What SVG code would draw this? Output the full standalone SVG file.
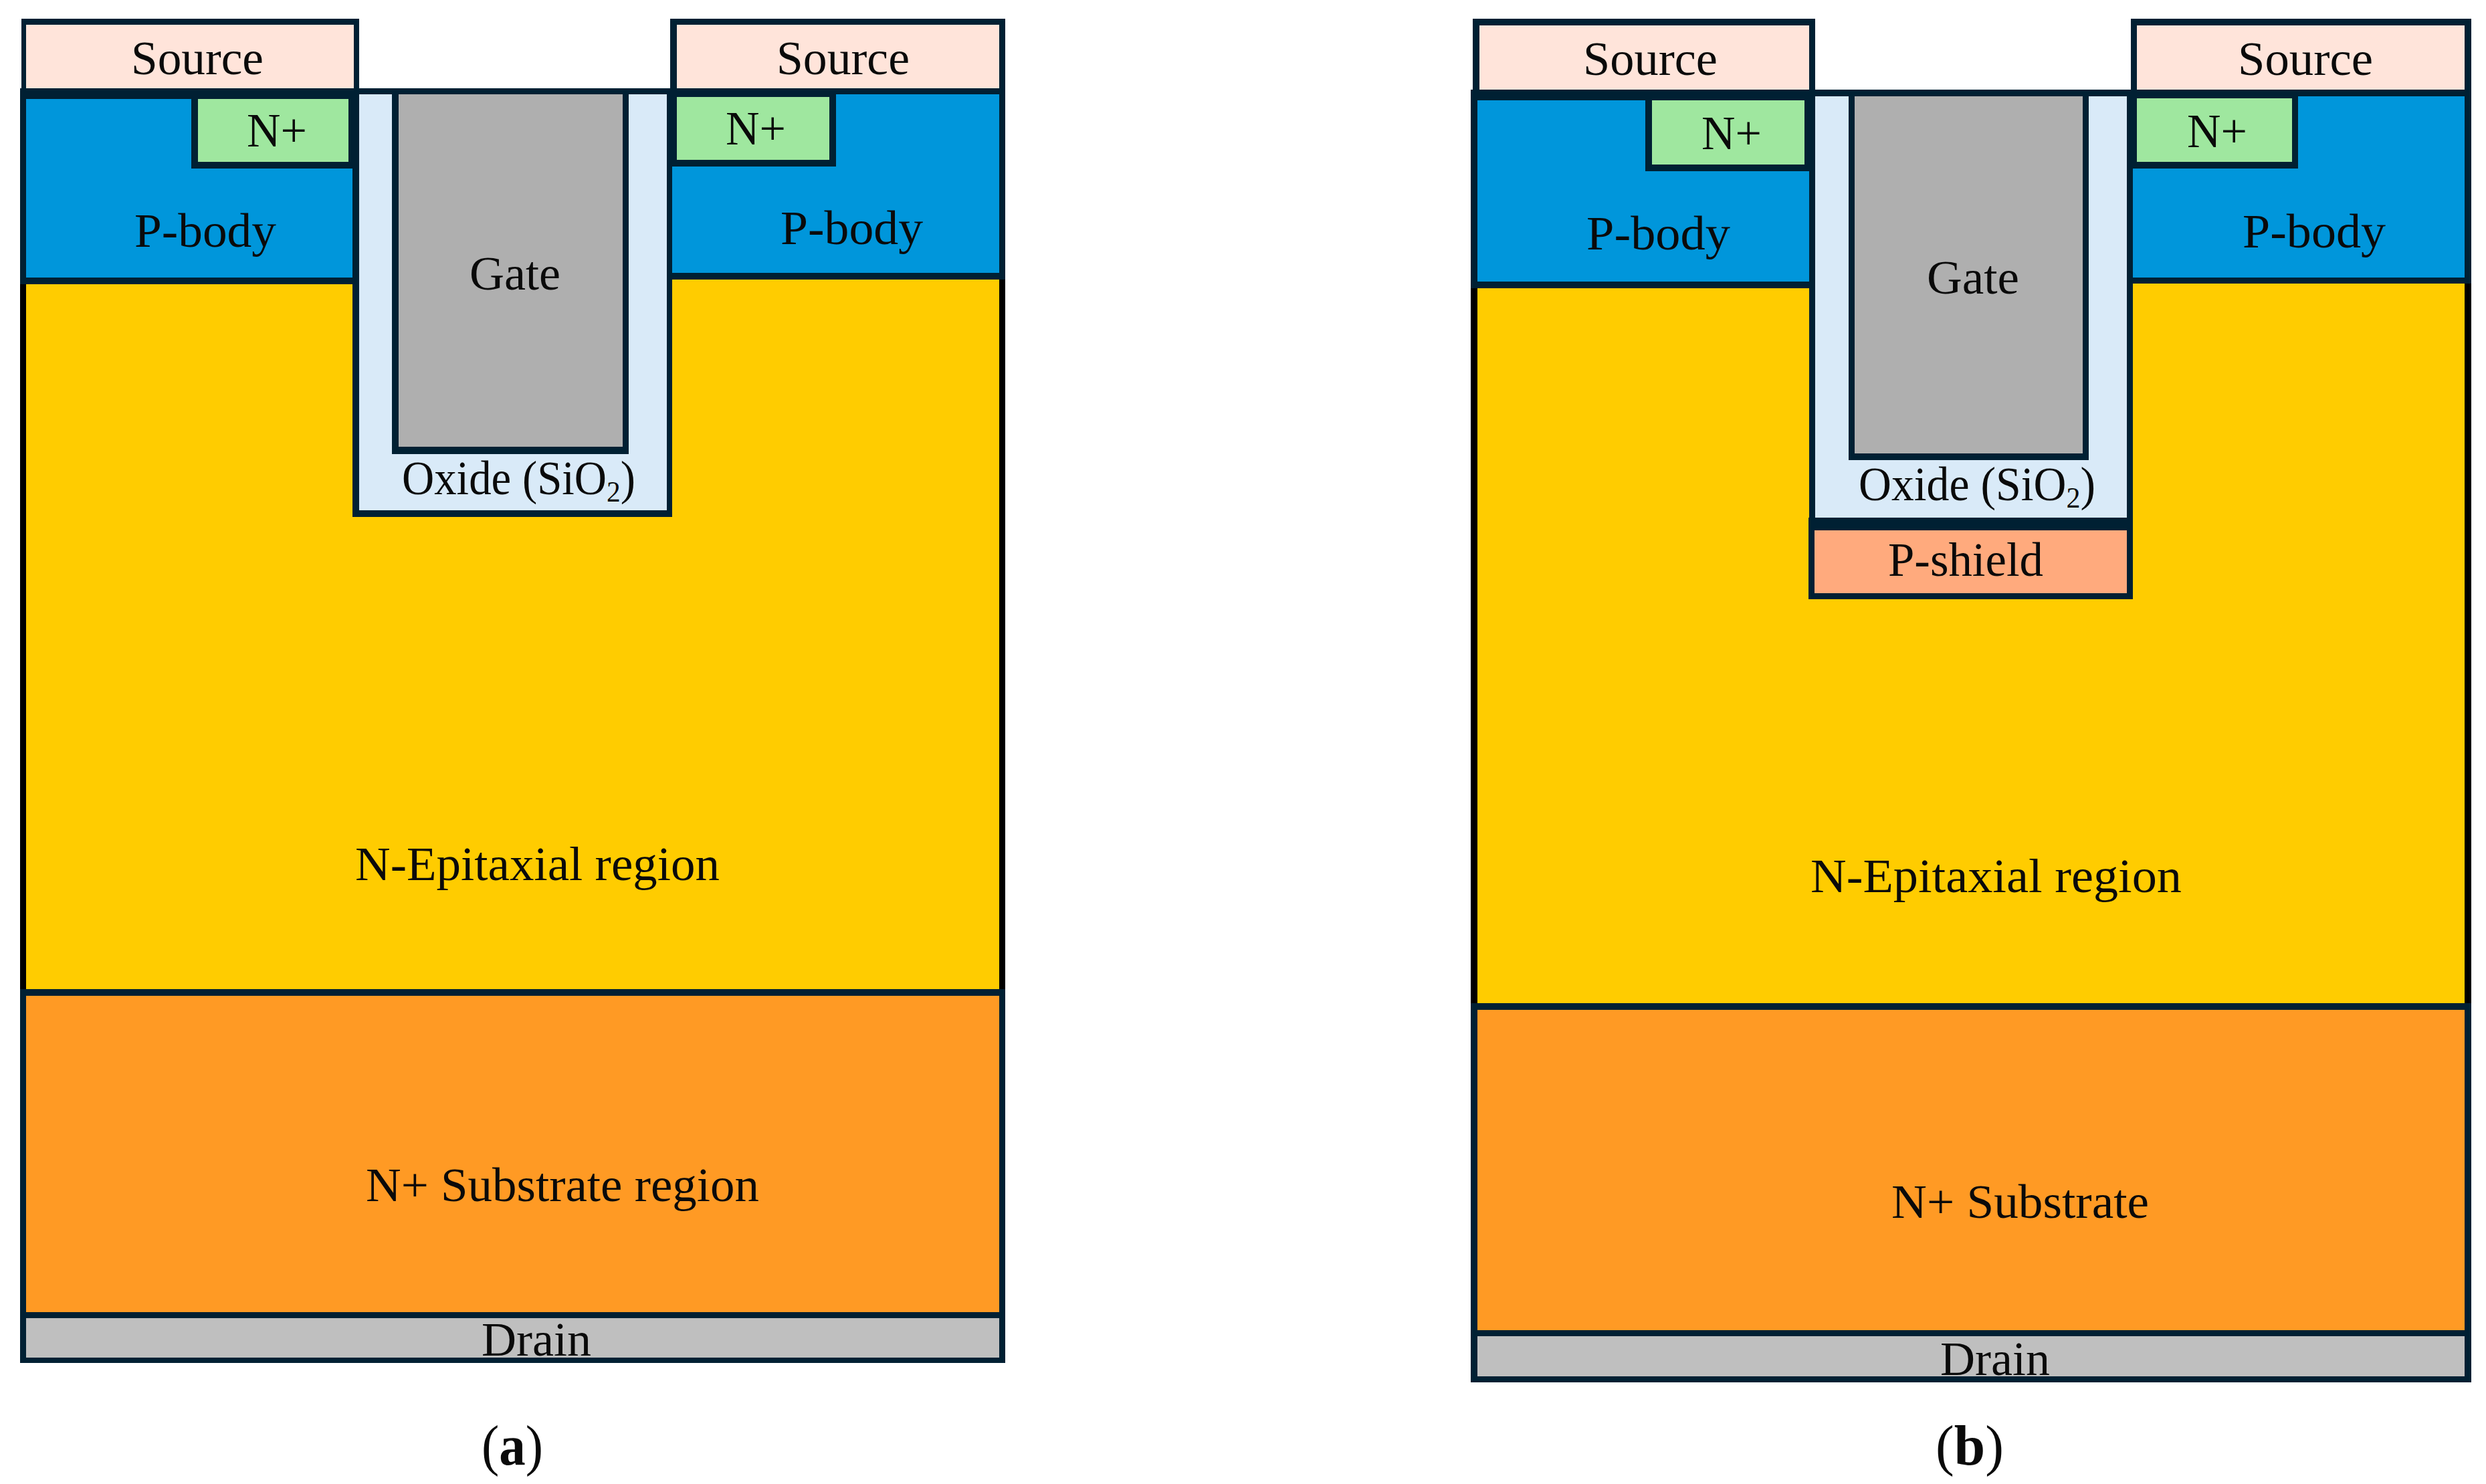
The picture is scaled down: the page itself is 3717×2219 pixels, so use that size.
<svg xmlns="http://www.w3.org/2000/svg" width="3717" height="2219" viewBox="0 0 3717 2219">
<style>
text{font-family:"Liberation Serif","Times New Roman",serif;font-size:71px;fill:#0a0a0a}
.b{font-weight:700}
.cap{font-size:84px}
.k{fill:#002033}.bk{fill:#000}
.src{fill:#FFE4DA}.pb{fill:#0096DB}.np{fill:#9FE79F}.ox{fill:#D9EAF8}.gt{fill:#AFAFAF}
.ep{fill:#FFCC00}.sb{fill:#FF9A24}.dr{fill:#BFBFBF}.ps{fill:#FFAA7D}
</style>
<rect width="3717" height="2219" fill="#fff"/>
<g id="panel-a">
<g id="a-frame"><rect class="k" x="30" y="132" width="1473" height="1906"/><rect class="bk" x="30" y="425" width="9" height="1054"/><rect class="bk" x="1494" y="418" width="9" height="1061"/></g>
<g id="a-epi"><rect class="ep" x="39" y="418" width="1455" height="1061"/><text x="531" y="1316" textLength="545" lengthAdjust="spacingAndGlyphs">N-Epitaxial region</text></g>
<g id="a-source-left"><rect class="k" x="32" y="28" width="505" height="110"/><rect class="src" x="39" y="37" width="490" height="95"/><text x="196" y="111" textLength="198" lengthAdjust="spacingAndGlyphs">Source</text></g>
<g id="a-source-right"><rect class="k" x="1002" y="28" width="501" height="110"/><rect class="src" x="1012" y="37" width="482" height="95"/><text x="1161" y="111" textLength="199" lengthAdjust="spacingAndGlyphs">Source</text></g>
<g id="a-pbody-left"><rect class="k" x="30" y="132" width="507" height="293"/><rect class="pb" x="39" y="148" width="489" height="267"/><text x="201" y="369" textLength="212" lengthAdjust="spacingAndGlyphs">P-body</text></g>
<g id="a-nplus-left"><rect class="k" x="286" y="132" width="251" height="120"/><rect class="np" x="296" y="148" width="225" height="94"/><text x="369" y="219" textLength="90" lengthAdjust="spacingAndGlyphs">N+</text></g>
<g id="a-pbody-right"><rect class="k" x="1005" y="132" width="498" height="286"/><rect class="pb" x="1005" y="141" width="489" height="267"/><text x="1167" y="365" textLength="213" lengthAdjust="spacingAndGlyphs">P-body</text></g>
<g id="a-nplus-right"><rect class="k" x="997" y="132" width="253" height="117"/><rect class="np" x="1012" y="145" width="228" height="94"/><text x="1085" y="216" textLength="90" lengthAdjust="spacingAndGlyphs">N+</text></g>
<g id="a-oxide"><rect class="k" x="527" y="132" width="478" height="641"/><rect class="ox" x="537" y="141" width="460" height="622"/><text x="601" y="739" textLength="349" lengthAdjust="spacingAndGlyphs">Oxide (SiO<tspan font-size="44" dy="11">2</tspan><tspan dy="-11">)</tspan></text></g>
<g id="a-gate"><rect class="k" x="586" y="132" width="354" height="547"/><rect class="gt" x="596" y="141" width="335" height="527"/><text x="702" y="433" textLength="136" lengthAdjust="spacingAndGlyphs">Gate</text></g>
<g id="a-substrate"><rect class="sb" x="39" y="1489" width="1455" height="473"/><text x="547" y="1796" textLength="588" lengthAdjust="spacingAndGlyphs">N+ Substrate region</text></g>
<g id="a-drain"><rect class="dr" x="39" y="1971" width="1455" height="59"/><text x="720" y="2027" textLength="164" lengthAdjust="spacingAndGlyphs">Drain</text></g>
<text id="a-caption" class="cap" x="720" y="2190" textLength="92" lengthAdjust="spacingAndGlyphs">(<tspan class="b">a</tspan>)</text>
</g>
<g id="panel-b">
<g id="b-frame"><rect class="k" x="2199" y="134" width="1496" height="1933"/><rect class="bk" x="2199" y="431" width="10" height="1069"/><rect class="bk" x="3685" y="424" width="10" height="1076"/></g>
<g id="b-epi"><rect class="ep" x="2209" y="424" width="1476" height="1076"/><text x="2707" y="1334" textLength="555" lengthAdjust="spacingAndGlyphs">N-Epitaxial region</text></g>
<g id="b-source-left"><rect class="k" x="2202" y="28" width="512" height="110"/><rect class="src" x="2212" y="38" width="493" height="96"/><text x="2367" y="112" textLength="201" lengthAdjust="spacingAndGlyphs">Source</text></g>
<g id="b-source-right"><rect class="k" x="3186" y="28" width="509" height="110"/><rect class="src" x="3195" y="38" width="490" height="96"/><text x="3346" y="112" textLength="202" lengthAdjust="spacingAndGlyphs">Source</text></g>
<g id="b-pbody-left"><rect class="k" x="2199" y="134" width="515" height="297"/><rect class="pb" x="2209" y="150" width="496" height="271"/><text x="2372" y="373" textLength="215" lengthAdjust="spacingAndGlyphs">P-body</text></g>
<g id="b-nplus-left"><rect class="k" x="2460" y="134" width="254" height="122"/><rect class="np" x="2470" y="150" width="228" height="96"/><text x="2544" y="223" textLength="90" lengthAdjust="spacingAndGlyphs">N+</text></g>
<g id="b-pbody-right"><rect class="k" x="3189" y="134" width="506" height="290"/><rect class="pb" x="3189" y="144" width="496" height="271"/><text x="3353" y="370" textLength="214" lengthAdjust="spacingAndGlyphs">P-body</text></g>
<g id="b-nplus-right"><rect class="k" x="3180" y="134" width="256" height="118"/><rect class="np" x="3195" y="147" width="232" height="95"/><text x="3270" y="220" textLength="90" lengthAdjust="spacingAndGlyphs">N+</text></g>
<g id="b-pshield"><rect class="k" x="2704" y="774" width="485" height="122"/><rect class="ps" x="2713" y="793" width="467" height="94"/><text x="2823" y="861" textLength="232" lengthAdjust="spacingAndGlyphs">P-shield</text></g>
<g id="b-oxide"><rect class="k" x="2705" y="134" width="484" height="650"/><rect class="ox" x="2714" y="144" width="466" height="630"/><text x="2779" y="748" textLength="354" lengthAdjust="spacingAndGlyphs">Oxide (SiO<tspan font-size="44" dy="11">2</tspan><tspan dy="-11">)</tspan></text></g>
<g id="b-gate"><rect class="k" x="2764" y="134" width="359" height="554"/><rect class="gt" x="2773" y="144" width="341" height="534"/><text x="2881" y="439" textLength="138" lengthAdjust="spacingAndGlyphs">Gate</text></g>
<g id="b-substrate"><rect class="sb" x="2209" y="1510" width="1476" height="479"/><text x="2828" y="1821" textLength="385" lengthAdjust="spacingAndGlyphs">N+ Substrate</text></g>
<g id="b-drain"><rect class="dr" x="2209" y="1998" width="1476" height="60"/><text x="2901" y="2056" textLength="164" lengthAdjust="spacingAndGlyphs">Drain</text></g>
<text id="b-caption" class="cap" x="2894" y="2190" textLength="102" lengthAdjust="spacingAndGlyphs">(<tspan class="b">b</tspan>)</text>
</g>
</svg>
